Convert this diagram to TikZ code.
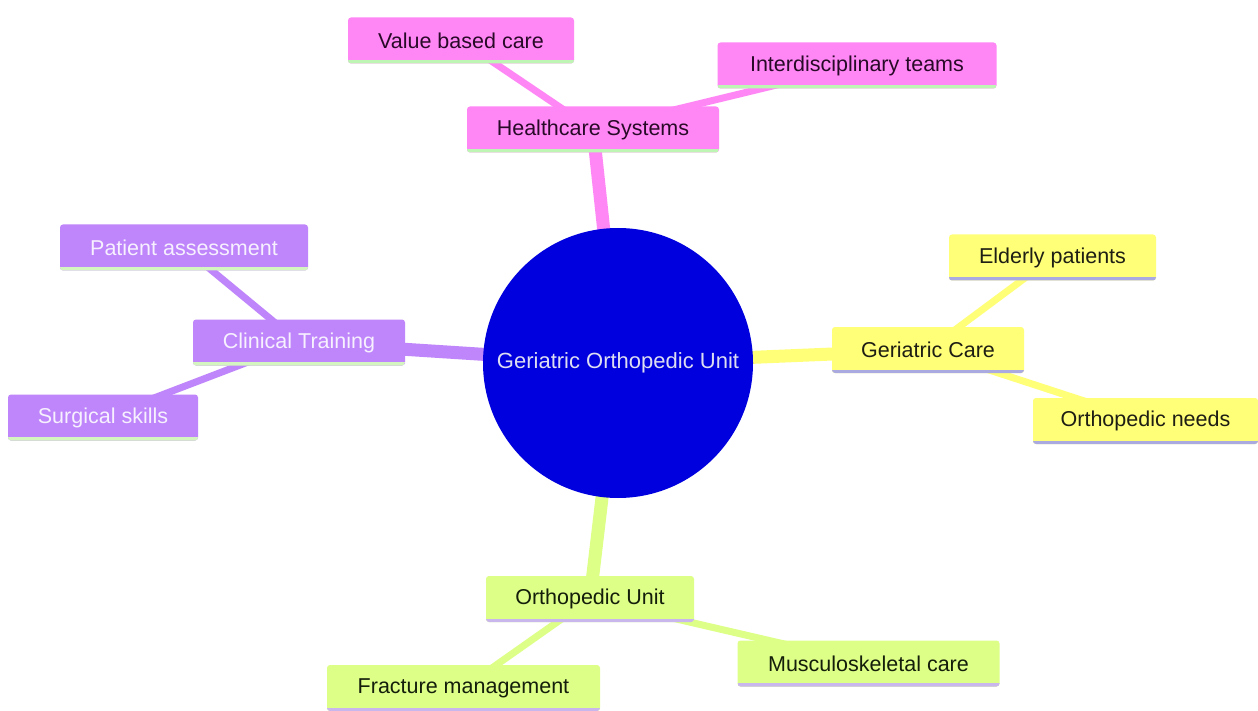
\documentclass[tikz,border=0pt]{standalone}
\usepackage{fontspec}
\setmainfont{Liberation Sans}
\usetikzlibrary{backgrounds}
\definecolor{pinkF}{RGB}{255,135,245}
\definecolor{pinkL}{RGB}{190,245,180}
\definecolor{pinkT}{RGB}{40,10,40}
\definecolor{purpF}{RGB}{191,133,250}
\definecolor{purpL}{RGB}{212,245,192}
\definecolor{purpT}{RGB}{246,240,255}
\definecolor{yelF}{RGB}{255,255,120}
\definecolor{yelL}{RGB}{170,170,225}
\definecolor{yelT}{RGB}{30,30,20}
\definecolor{grnF}{RGB}{221,255,136}
\definecolor{grnL}{RGB}{200,182,236}
\definecolor{grnT}{RGB}{20,30,10}
\definecolor{rootF}{RGB}{0,0,222}
\definecolor{rootT}{RGB}{222,222,242}
\tikzset{
  box/.style 2 args={rectangle, rounded corners=3pt, fill=#1, inner sep=0pt,
    minimum height=46pt, font=\fontsize{21.5}{26}\selectfont,
    path picture={\draw[line width=7pt,#2]
      (path picture bounding box.south west) -- (path picture bounding box.south east);}},
  pinkbox/.style={box={pinkF}{pinkL}, text=pinkT},
  purpbox/.style={box={purpF}{purpL}, text=purpT},
  yelbox/.style={box={yelF}{yelL}, text=yelT},
  grnbox/.style={box={grnF}{grnL}, text=grnT},
  edgeA/.style={line width=13pt},
  edgeB/.style={line width=7pt},
}
\begin{document}
\begin{tikzpicture}[x=1pt,y=-1pt]
\useasboundingbox (0,0) rectangle (1258,711);
% root
\node[circle, fill=rootF, minimum size=270pt, inner sep=0pt, text=rootT,
  font=\fontsize{22}{26}\selectfont] (root) at (618,363) {Geriatric Orthopedic Unit};
% Healthcare branch
\node[pinkbox, minimum width=252pt] (hs) at (593,129.5) {Healthcare Systems};
\node[pinkbox, minimum width=226pt] (vb) at (461,40.5) {Value based care};
\node[pinkbox, minimum width=279pt] (id) at (857,65.5) {Interdisciplinary teams};
% Clinical branch
\node[purpbox, minimum width=212pt] (ct) at (299,342.5) {Clinical Training};
\node[purpbox, minimum width=248pt] (pa) at (184,247.5) {Patient assessment};
\node[purpbox, minimum width=190pt] (ss) at (103,417.5) {Surgical skills};
% Geriatric branch
\node[yelbox, minimum width=192pt] (gc) at (928,350) {Geriatric Care};
\node[yelbox, minimum width=207pt] (ep) at (1052.5,257.5) {Elderly patients};
\node[yelbox, minimum width=225pt] (on) at (1145.5,421) {Orthopedic needs};
% Orthopedic branch
\node[grnbox, minimum width=208pt] (ou) at (590,599) {Orthopedic Unit};
\node[grnbox, minimum width=262pt] (mc) at (868.5,663.5) {Musculoskeletal care};
\node[grnbox, minimum width=273pt] (fm) at (463.5,688) {Fracture management};
\begin{scope}[on background layer]
\fill[white] (0,0) rectangle (1258,711);
\draw[edgeA, pinkF] (root.center) -- (hs.center);
\draw[edgeB, pinkF] (hs.center) -- (vb.center);
\draw[edgeB, pinkF] (hs.center) -- (id.center);
\draw[edgeA, purpF] (root.center) -- (ct.center);
\draw[edgeB, purpF] (ct.center) -- (pa.center);
\draw[edgeB, purpF] (ct.center) -- (ss.center);
\draw[edgeA, yelF] (root.center) -- (gc.center);
\draw[edgeB, yelF] (gc.center) -- (ep.center);
\draw[edgeB, yelF] (gc.center) -- (on.center);
\draw[edgeA, grnF] (root.center) -- (ou.center);
\draw[edgeB, grnF] (ou.center) -- (mc.center);
\draw[edgeB, grnF] (ou.center) -- (fm.center);
\end{scope}
\end{tikzpicture}
\end{document}
